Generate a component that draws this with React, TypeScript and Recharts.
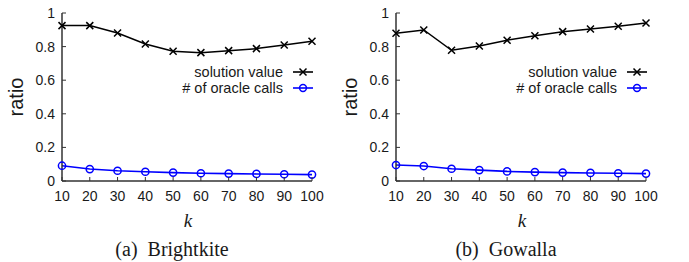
import { LineChart, Line, XAxis, YAxis } from "recharts";

const kValues = [10, 20, 30, 40, 50, 60, 70, 80, 90, 100];
const yTicks = [0, 0.2, 0.4, 0.6, 0.8, 1];

const brightkiteSolution = [0.925, 0.925, 0.881, 0.816, 0.772, 0.764, 0.776, 0.788, 0.81, 0.832];
const brightkiteOracle = [0.091, 0.071, 0.061, 0.055, 0.05, 0.046, 0.044, 0.042, 0.04, 0.038];

const gowallaSolution = [0.879, 0.899, 0.778, 0.804, 0.838, 0.865, 0.889, 0.905, 0.921, 0.941];
const gowallaOracle = [0.095, 0.089, 0.073, 0.065, 0.057, 0.053, 0.05, 0.048, 0.046, 0.044];

const AXIS = "#333";
const TEXT = "#1a1a1a";
const SANS = "'Liberation Sans', Arial, Helvetica, sans-serif";
const SERIF = "'Liberation Serif', 'Times New Roman', serif";

const W = 344;
const H = 230;

function Cross(props: any) {
  const { cx, cy, index } = props;
  const s = 3.5;
  return (
    <path
      key={`x-${index}`}
      d={`M${cx - s},${cy - s}L${cx + s},${cy + s}M${cx - s},${cy + s}L${cx + s},${cy - s}`}
      stroke="#000"
      strokeWidth={1.5}
      fill="none"
    />
  );
}

function Ring(props: any) {
  const { cx, cy, index } = props;
  return (
    <circle key={`o-${index}`} cx={cx} cy={cy} r={3.6} stroke="#0000ff" strokeWidth={1.5} fill="none" />
  );
}

function XTick(props: any) {
  const { x, y, payload } = props;
  return (
    <g>
      <line x1={x} x2={x} y1={y} y2={y - 4} stroke={AXIS} strokeWidth={1} />
      <text x={x} y={y + 20} textAnchor="middle" fontFamily={SANS} fontSize={14} fill={TEXT}>
        {payload.value}
      </text>
    </g>
  );
}

function YTick(props: any) {
  const { x, y, payload } = props;
  return (
    <g>
      <line x1={x} x2={x + 4} y1={y} y2={y} stroke={AXIS} strokeWidth={1} />
      <text x={x - 7} y={y + 5} textAnchor="end" fontFamily={SANS} fontSize={14} fill={TEXT}>
        {payload.value}
      </text>
    </g>
  );
}

function LegendRow({ label, color, circle, top }: { label: string; color: string; circle: boolean; top: number }) {
  return (
    <div style={{ position: "absolute", top: top - 9, left: 0, width: 316, height: 18, display: "flex", alignItems: "center", justifyContent: "flex-end" }}>
      <span style={{ fontFamily: SANS, fontSize: 14.5, color: TEXT, marginRight: 9, lineHeight: "18px" }}>{label}</span>
      <svg width={22} height={18} style={{ marginRight: 2 }}>
        <line x1={1} x2={21} y1={9} y2={9} stroke={color} strokeWidth={1.6} />
        {circle ? (
          <circle cx={11} cy={9} r={3.4} stroke={color} strokeWidth={1.5} fill="none" />
        ) : (
          <path d="M7.5,5.5L14.5,12.5M7.5,12.5L14.5,5.5" stroke={color} strokeWidth={1.5} />
        )}
      </svg>
    </div>
  );
}

function Panel({ left, solution, oracle, caption }: { left: number; solution: number[]; oracle: number[]; caption: string }) {
  const rows = kValues.map((k, i) => ({ k, solution: solution[i], oracle: oracle[i] }));
  return (
    <div style={{ position: "absolute", left, top: 0, width: W, height: 262 }}>
      <LineChart width={W} height={H} data={rows} margin={{ top: 13, right: 32, bottom: 0, left: 0 }}>
        <XAxis
          dataKey="k"
          type="number"
          domain={[10, 100]}
          ticks={kValues}
          height={49}
          stroke={AXIS}
          strokeWidth={1.5}
          tickLine={false}
          tickSize={0}
          tickMargin={0}
          tick={<XTick />}
          interval={0}
        />
        <YAxis
          type="number"
          domain={[0, 1]}
          ticks={yTicks}
          width={62}
          stroke={AXIS}
          strokeWidth={1.5}
          tickLine={false}
          tickSize={0}
          tickMargin={0}
          tick={<YTick />}
          interval={0}
        />
        <Line
          type="linear"
          dataKey="solution"
          stroke="#000"
          strokeWidth={1.5}
          dot={Cross}
          activeDot={false}
          isAnimationActive={false}
        />
        <Line
          type="linear"
          dataKey="oracle"
          stroke="#0000ff"
          strokeWidth={1.6}
          dot={Ring}
          activeDot={false}
          isAnimationActive={false}
        />
      </LineChart>
      <LegendRow label="solution value" color="#000" circle={false} top={72} />
      <LegendRow label="# of oracle calls" color="#0000ff" circle={true} top={88} />
      <div
        style={{
          position: "absolute",
          left: 16,
          top: 97,
          transform: "translate(-50%, -50%) rotate(-90deg)",
          fontFamily: SANS,
          fontSize: 20,
          color: TEXT,
          whiteSpace: "nowrap",
          lineHeight: 1,
        }}
      >
        ratio
      </div>
      <div
        style={{
          position: "absolute",
          left: 188,
          top: 220,
          transform: "translate(-50%, -50%)",
          fontFamily: SERIF,
          fontStyle: "italic",
          fontSize: 19,
          color: TEXT,
          lineHeight: 1,
        }}
      >
        k
      </div>
      <div
        style={{
          position: "absolute",
          left: 172,
          top: 249,
          transform: "translate(-50%, -50%)",
          fontFamily: SERIF,
          fontSize: 20,
          color: TEXT,
          whiteSpace: "pre",
          lineHeight: 1,
        }}
      >
        {caption}
      </div>
    </div>
  );
}

export default function App() {
  return (
    <div style={{ position: "absolute", left: 0, top: 0, width: 689, height: 262, background: "#fff", overflow: "hidden" }}>
      <Panel left={0} solution={brightkiteSolution} oracle={brightkiteOracle} caption="(a)  Brightkite" />
      <Panel left={334} solution={gowallaSolution} oracle={gowallaOracle} caption="(b)  Gowalla" />
    </div>
  );
}
